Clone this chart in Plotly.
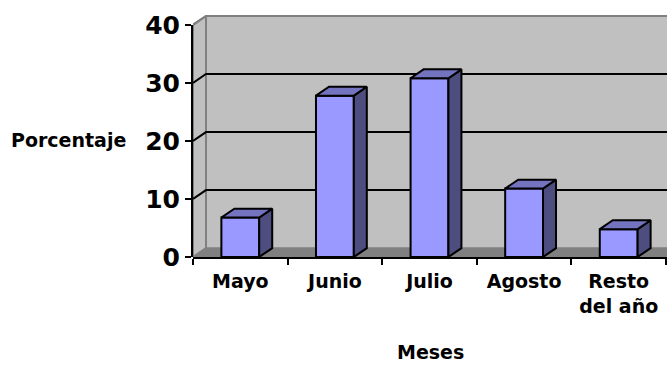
import plotly.graph_objects as go

# ---- data ----
categories = ["Mayo", "Junio", "Julio", "Agosto", "Resto<br>del año"]
values = [6.8, 27.8, 30.8, 11.8, 4.8]
y_ticks = [0, 10, 20, 30, 40]
x_title = "Meses"
y_title = "Porcentaje"

# ---- style constants ----
W, H = 667, 365
ML, MR, MT, MB = 193, 0, 10, 108
XPX = 94.6   # pixels per category
YPX = 5.9    # pixels per unit
DX = 13 / XPX   # 3D depth offset (x, in data units)
DY = 9 / YPX    # 3D depth offset (y, in data units)
BW = 0.2        # half bar width
FONT = "DejaVu Sans"

PW, PH = W - ML - MR, H - MT - MB
x0 = -0.5
x1 = x0 + PW / XPX
ymax = PH / YPX
n = len(categories)
xend = n - 0.5
vmax = y_ticks[-1]

WALL = "#C0C0C0"
FLOOR = "#808080"
EDGE = "#808080"
FRONT = "#9999FF"
SIDE = "#4D4D80"
TOP = "#7373BF"

fig = go.Figure()


def poly(xs, ys, fill, lc, lw):
    fig.add_trace(go.Scatter(
        x=list(xs) + [xs[0]], y=list(ys) + [ys[0]], mode="lines",
        fill="toself", fillcolor=fill, line=dict(color=lc, width=lw),
        hoverinfo="skip", showlegend=False))


def seg(xs, ys, lc, lw):
    fig.add_trace(go.Scatter(
        x=xs, y=ys, mode="lines", line=dict(color=lc, width=lw),
        hoverinfo="skip", showlegend=False))


# floor
poly([x0, xend, xend + DX, x0 + DX], [0, 0, DY, DY], FLOOR, FLOOR, 1)
# back wall
poly([x0 + DX, xend + DX, xend + DX, x0 + DX], [DY, DY, vmax + DY, vmax + DY], WALL, EDGE, 2)
# side wall
poly([x0, x0 + DX, x0 + DX, x0], [0, DY, vmax + DY, vmax], WALL, EDGE, 2)

# gridlines
for t in y_ticks[1:-1]:
    seg([x0, x0 + DX, xend + DX], [t, t + DY, t + DY], "black", 2)
# top edges
seg([x0, x0 + DX, xend + DX], [vmax, vmax + DY, vmax + DY], EDGE, 2)

# bars
for i, v in enumerate(values):
    c = i
    poly([c - BW, c + BW, c + BW, c - BW], [0, 0, v, v], FRONT, "black", 2)
    poly([c + BW, c + BW + DX, c + BW + DX, c + BW], [0, DY, v + DY, v], SIDE, "black", 2)
    poly([c - BW, c + BW, c + BW + DX, c - BW + DX], [v, v, v + DY, v + DY], TOP, "black", 2)

# invisible trace for tick axis subplot
fig.add_trace(go.Scatter(x=[0], y=[0], xaxis="x", yaxis="y2", mode="markers",
                         marker=dict(opacity=0), hoverinfo="skip", showlegend=False))

fig.update_layout(
    width=W, height=H,
    margin=dict(l=ML, r=MR, t=MT, b=MB),
    paper_bgcolor="white", plot_bgcolor="rgba(0,0,0,0)",
    showlegend=False,
    xaxis=dict(
        range=[x0, x1], showgrid=False, zeroline=False,
        tickmode="array", tickvals=list(range(n)), ticktext=categories,
        ticks="", showline=True, linecolor="black", linewidth=2,
        tickfont=dict(family=FONT, size=19, color="black", weight="bold"),
        ticklabelstandoff=6,
        minor=dict(tickmode="array", tickvals=[k - 0.5 for k in range(n + 1)],
                   ticks="outside", ticklen=6, tickwidth=2, tickcolor="black"),
        fixedrange=True,
    ),
    yaxis=dict(range=[0, ymax], visible=False, fixedrange=True),
    yaxis2=dict(
        domain=[0, vmax / ymax], range=[0, vmax], anchor="x",
        tickmode="array", tickvals=y_ticks, ticktext=[str(t) for t in y_ticks],
        ticks="outside", ticklen=6, tickwidth=2, tickcolor="black",
        showline=True, linecolor="black", linewidth=2,
        showgrid=False, zeroline=False,
        tickfont=dict(family=FONT, size=25, color="black", weight="bold"),
        fixedrange=True,
    ),
    annotations=[
        dict(text=y_title, xref="paper", yref="paper",
             x=(128 - ML) / PW, y=(257 - 138.5) / PH,
             xanchor="right", yanchor="middle", showarrow=False,
             font=dict(family=FONT, size=19, color="black", weight="bold")),
        dict(text=x_title, xref="paper", yref="paper",
             x=(430 - ML) / PW, y=(257 - 354) / PH,
             xanchor="center", yanchor="middle", showarrow=False,
             font=dict(family=FONT, size=19, color="black", weight="bold")),
    ],
)

fig.write_html("out.html")
